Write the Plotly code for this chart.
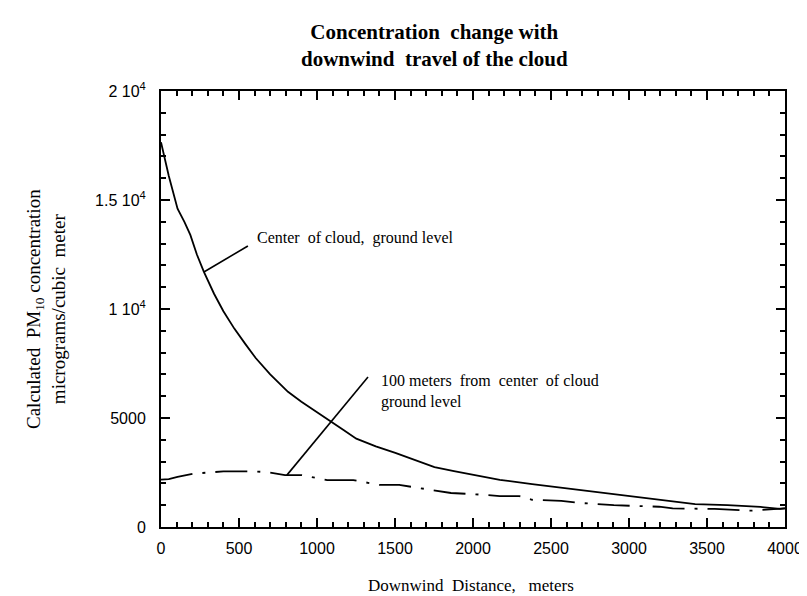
import plotly.graph_objects as go

# Center of cloud, ground level
dist_center = [0, 50, 106, 150, 188, 230, 275, 340, 400, 470, 540, 607, 700, 814, 900, 964, 1089, 1170,
               1252, 1377, 1502, 1628, 1753, 1878, 2003, 2172, 2379, 2590, 2797, 3005, 3215, 3424, 3631,
               3843, 3968, 4000]
conc_center = [17650, 16100, 14600, 14000, 13400, 12500, 11700, 10700, 9900, 9100, 8400, 7750, 7000, 6200,
               5750, 5450, 4860, 4450, 4050, 3700, 3400, 3080, 2750, 2560, 2400, 2160, 1970, 1790, 1600,
               1420, 1240, 1050, 1000, 920, 830, 850]

# 100 meters from center of cloud, ground level
dist_100 = [0, 50, 106, 213, 400, 607, 700, 795, 900, 1065, 1233, 1402, 1527, 1700, 1859, 2016,
            2172, 2297, 2379, 2566, 2692, 2903, 3061, 3193, 3280, 3549, 3781, 4000]
conc_100 = [2170, 2200, 2300, 2450, 2550, 2550, 2500, 2380, 2380, 2150, 2150, 1930, 1930, 1750, 1560, 1500,
            1420, 1420, 1250, 1200, 1100, 1000, 960, 930, 850, 830, 750, 850]

y_tickvals = [0, 5000, 10000, 15000, 20000]
y_ticktext = ["0", "5000", "1 10<sup>4</sup>", "1.5 10<sup>4</sup>", "2 10<sup>4</sup>"]
x_tickvals = [0, 500, 1000, 1500, 2000, 2500, 3000, 3500, 4000]

NB = "\u00a0"
serif = "Liberation Serif, Times New Roman, serif"
sans = "Liberation Sans, Arial, sans-serif"

fig = go.Figure()
fig.add_trace(go.Scatter(x=dist_center, y=conc_center, mode="lines",
                         line=dict(color="black", width=1.8), showlegend=False))
fig.add_trace(go.Scatter(x=dist_100, y=conc_100, mode="lines",
                         line=dict(color="black", width=1.8, dash="32px,10px,3px,10px"),
                         showlegend=False))

# leader lines
fig.add_shape(type="line", xref="x", yref="y", x0=275, y0=11700, x1=557, y1=12890,
              line=dict(color="black", width=1.6))
fig.add_shape(type="line", xref="x", yref="y", x0=807, y0=2380, x1=1327, y1=6880,
              line=dict(color="black", width=1.6))

fig.add_annotation(x=600, y=13250, xref="x", yref="y", xanchor="left", yanchor="middle",
                   text="Center" + NB * 2 + "of" + NB + "cloud," + NB * 2 + "ground" + NB + "level",
                   showarrow=False, font=dict(family=serif, size=16, color="black"))
fig.add_annotation(x=1396, y=6220, xref="x", yref="y", xanchor="left", yanchor="middle", align="left",
                   text="100" + NB + "meters" + NB * 2 + "from" + NB * 2 + "center" + NB * 2 + "of" + NB + "cloud<br>ground" + NB + "level",
                   showarrow=False, font=dict(family=serif, size=16, color="black"))

# chart title
fig.add_annotation(xref="paper", yref="paper", x=(433 - 153) / 639, y=1, yshift=83 - 37,
                   xanchor="center", yanchor="middle", showarrow=False, align="center",
                   text="<b>Concentration" + NB * 2 + "change with<br>downwind" + NB * 2 + "travel of the cloud</b>",
                   font=dict(family=serif, size=21, color="black"))

# axis titles
fig.add_annotation(xref="paper", yref="paper", x=0, y=0.5, xshift=38 - 153, xanchor="center", yanchor="middle",
                   textangle=-90, showarrow=False, align="center",
                   text="Calculated" + NB * 2 + "PM<sub>10</sub>" + NB + "concentration<br>micrograms/cubic" + NB * 2 + "meter",
                   font=dict(family=serif, size=19, color="black"))
fig.add_annotation(xref="paper", yref="paper", x=(470 - 153) / 639, y=0, yshift=519 - 577,
                   xanchor="center", yanchor="middle", showarrow=False,
                   text="Downwind" + NB * 2 + "Distance," + NB * 3 + "meters",
                   font=dict(family=serif, size=17, color="black"))

fig.update_layout(
    width=807, height=596,
    margin=dict(l=153, r=15, t=83, b=77),
    paper_bgcolor="white", plot_bgcolor="white",
    xaxis=dict(range=[0, 4000], tickvals=x_tickvals, ticks="inside", ticklen=9, tickwidth=1.5,
               tickcolor="black", showline=True, linecolor="black", linewidth=2, mirror="ticks",
               showgrid=False, zeroline=False, ticklabeloverflow="allow", ticklabelstandoff=6,
               minor=dict(dtick=100, ticks="inside", ticklen=5, tickwidth=1.5, tickcolor="black", showgrid=False),
               tickfont=dict(family=sans, size=16, color="black")),
    yaxis=dict(range=[0, 20000], tickvals=y_tickvals, ticktext=y_ticktext, ticks="inside", ticklen=9,
               tickwidth=1.5, tickcolor="black", showline=True, linecolor="black", linewidth=2,
               mirror="ticks", showgrid=False, zeroline=False, ticklabelstandoff=10,
               minor=dict(dtick=1000, ticks="inside", ticklen=5, tickwidth=1.5, tickcolor="black", showgrid=False),
               tickfont=dict(family=sans, size=16, color="black")),
)

fig.write_html("out.html")
